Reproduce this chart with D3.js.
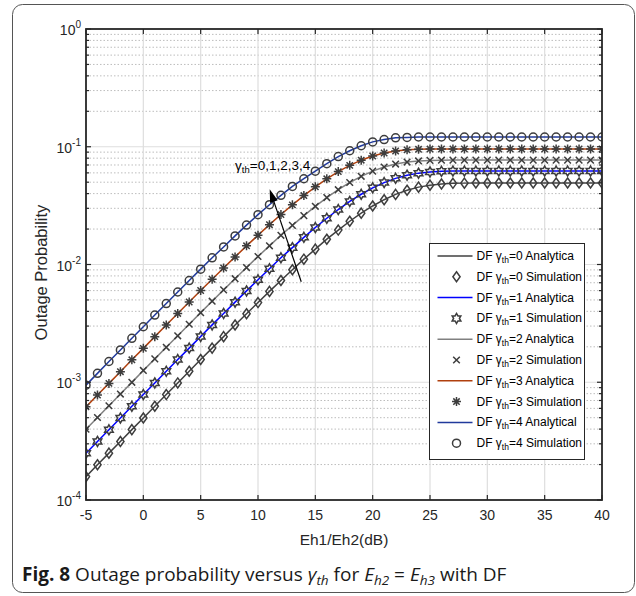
<!DOCTYPE html>
<html>
<head>
<meta charset="utf-8">
<script src="https://cdn.jsdelivr.net/npm/d3@7"></script>
<style>
  body { margin: 0; background: #fff; }
</style>
</head>
<body>
<div id="chart"></div>
<script>
// Eh1/Eh2 in dB, one simulation point per dB
const snrDb = [-5,-4,-3,-2,-1,0,1,2,3,4,5,6,7,8,9,10,11,12,13,14,15,16,17,18,19,20,
  21,22,23,24,25,26,27,28,29,30,31,32,33,34,35,36,37,38,39,40];

// outage probability, gamma_th = 0..4
const pOut0 = [1.58e-4,1.99e-4,2.50e-4,3.14e-4,3.96e-4,4.97e-4,6.25e-4,7.86e-4,9.87e-4,1.24e-3,
  1.56e-3,1.95e-3,2.44e-3,3.06e-3,3.82e-3,4.75e-3,5.91e-3,7.32e-3,9.03e-3,0.0111,
  0.0135,0.0164,0.0196,0.0233,0.0273,0.0314,0.0355,0.0394,0.0427,0.0454,
  0.0472,0.0483,0.0489,0.0491,0.0492,0.0492,0.0492,0.0492,0.0492,0.0492,
  0.0492,0.0492,0.0492,0.0492,0.0492,0.0492];
const pOut1 = [2.49e-4,3.14e-4,3.95e-4,4.97e-4,6.25e-4,7.86e-4,9.87e-4,1.24e-3,1.56e-3,1.95e-3,
  2.45e-3,3.07e-3,3.84e-3,4.79e-3,5.97e-3,7.42e-3,9.20e-3,0.0114,0.0139,0.0170,
  0.0206,0.0247,0.0293,0.0343,0.0395,0.0448,0.0496,0.0539,0.0573,0.0597,
  0.0611,0.0618,0.0621,0.0622,0.0622,0.0622,0.0622,0.0622,0.0622,0.0622,
  0.0622,0.0622,0.0622,0.0622,0.0622,0.0622];
const pOut2 = [3.99e-4,5.02e-4,6.32e-4,7.94e-4,9.98e-4,1.26e-3,1.58e-3,1.98e-3,2.48e-3,3.11e-3,
  3.90e-3,4.88e-3,6.09e-3,7.58e-3,9.42e-3,0.0117,0.0144,0.0177,0.0215,0.0260,
  0.0312,0.0370,0.0432,0.0497,0.0561,0.0621,0.0673,0.0713,0.0741,0.0758,
  0.0766,0.0769,0.0770,0.0770,0.0770,0.0770,0.0770,0.0770,0.0770,0.0770,
  0.0770,0.0770,0.0770,0.0770,0.0770,0.0770];
const pOut3 = [6.18e-4,7.78e-4,9.78e-4,1.23e-3,1.55e-3,1.94e-3,2.44e-3,3.06e-3,3.84e-3,4.80e-3,
  6.01e-3,7.50e-3,9.34e-3,0.0116,0.0144,0.0177,0.0218,0.0266,0.0321,0.0385,
  0.0457,0.0534,0.0615,0.0695,0.0769,0.0834,0.0885,0.0920,0.0941,0.0951,
  0.0956,0.0957,0.0957,0.0957,0.0957,0.0957,0.0957,0.0957,0.0957,0.0957,
  0.0957,0.0957,0.0957,0.0957,0.0957,0.0957];
const pOut4 = [9.45e-4,1.19e-3,1.50e-3,1.88e-3,2.36e-3,2.96e-3,3.72e-3,4.66e-3,5.84e-3,7.31e-3,
  9.13e-3,0.0114,0.0141,0.0175,0.0216,0.0265,0.0322,0.0387,0.0460,0.0535,
  0.0620,0.0718,0.0825,0.0925,0.102,0.110,0.115,0.119,0.120,0.121,
  0.121,0.121,0.121,0.121,0.121,0.121,0.121,0.121,0.121,0.121,
  0.121,0.121,0.121,0.121,0.121,0.121];

const gammaTh = ["0","1","2","3","4"];
const analyticLabel = ["Analytica","Analytica","Analytica","Analytica","Analytical"];
const xTicks = [-5,0,5,10,15,20,25,30,35,40];
const yExponents = [-4,-3,-2,-1,0];

// arrow annotation in data units: tail -> tip
const arrowFrom = [13.77, 0.00714];
const arrowTo = [11.02, 0.0435];
const noteAt = [8.0, 0.0635];

const series = [pOut0, pOut1, pOut2, pOut3, pOut4];
const lineColors = ["#404040", "#0000ff", "#808080", "#b0400e", "#213a9c"];
const markerColor = "#3d3d3d";
const sans = "'Liberation Sans', Arial, Helvetica, sans-serif";

const width = 636, height = 596;
const plot = { left: 86, right: 602, top: 29, bottom: 500 };

const svg = d3.select("#chart").append("svg")
  .attr("width", width)
  .attr("height", height)
  .attr("font-family", sans);

// figure frame
svg.append("rect")
  .attr("x", 12.5).attr("y", 4.5)
  .attr("width", 622).attr("height", 588)
  .attr("rx", 10)
  .attr("fill", "none")
  .attr("stroke", "#555")
  .attr("stroke-width", 1);

const x = d3.scaleLinear().domain([-5, 40]).range([plot.left, plot.right]);
const y = d3.scaleLog().domain([1e-4, 1]).range([plot.bottom, plot.top]);

// minor values per decade
const minorVals = [];
yExponents.slice(0, -1).forEach(e => {
  for (let k = 2; k <= 9; k++) minorVals.push(k * Math.pow(10, e));
});

const grid = svg.append("g");
grid.selectAll(".minor").data(minorVals).enter().append("line")
  .attr("x1", plot.left).attr("x2", plot.right)
  .attr("y1", d => y(d)).attr("y2", d => y(d))
  .attr("stroke", "#bdbdbd")
  .attr("stroke-width", 1)
  .attr("stroke-dasharray", "1.5,2");
grid.selectAll(".vmaj").data(xTicks.slice(1, -1)).enter().append("line")
  .attr("x1", d => x(d)).attr("x2", d => x(d))
  .attr("y1", plot.top).attr("y2", plot.bottom)
  .attr("stroke", "#dedede").attr("stroke-width", 1.2);
grid.selectAll(".hmaj").data(yExponents.slice(1, -1)).enter().append("line")
  .attr("x1", plot.left).attr("x2", plot.right)
  .attr("y1", d => y(Math.pow(10, d))).attr("y2", d => y(Math.pow(10, d)))
  .attr("stroke", "#dedede").attr("stroke-width", 1.2);

// marker shapes
function hexagram(r) {
  const pts = [];
  for (let i = 0; i < 12; i++) {
    const a = -Math.PI / 2 + i * Math.PI / 6;
    const rr = i % 2 === 0 ? r : r / Math.sqrt(3);
    pts.push([rr * Math.cos(a), rr * Math.sin(a)]);
  }
  return "M" + pts.map(p => p[0].toFixed(2) + "," + p[1].toFixed(2)).join("L") + "Z";
}
const markerPaths = [
  "M0,-5L3.6,0L0,5L-3.6,0Z",
  hexagram(5),
  "M-3.3,-3.3L3.3,3.3M3.3,-3.3L-3.3,3.3",
  "M0,-4.5V4.5M-4.5,0H4.5M-3.2,-3.2L3.2,3.2M3.2,-3.2L-3.2,3.2",
  d3.symbol(d3.symbolCircle, Math.PI * 16)()
];

svg.append("clipPath").attr("id", "plotclip")
  .append("rect")
  .attr("x", plot.left).attr("y", plot.top)
  .attr("width", plot.right - plot.left).attr("height", plot.bottom - plot.top);

const curves = svg.append("g").attr("clip-path", "url(#plotclip)");
const line = d3.line().x((d, i) => x(snrDb[i])).y(d => y(d));

series.forEach((vals, s) => {
  curves.append("path")
    .attr("d", line(vals))
    .attr("fill", "none")
    .attr("stroke", lineColors[s])
    .attr("stroke-width", 1.5);
  curves.selectAll(".m" + s).data(vals).enter().append("path")
    .attr("transform", (d, i) => `translate(${x(snrDb[i])},${y(d)})`)
    .attr("d", markerPaths[s])
    .attr("fill", "none")
    .attr("stroke", markerColor)
    .attr("stroke-width", 1.5);
});

// axes box and inward ticks
const axes = svg.append("g").attr("stroke", "#262626");
xTicks.forEach(t => {
  axes.append("line").attr("x1", x(t)).attr("x2", x(t))
    .attr("y1", plot.bottom).attr("y2", plot.bottom - 5).attr("stroke-width", 1.2);
  axes.append("line").attr("x1", x(t)).attr("x2", x(t))
    .attr("y1", plot.top).attr("y2", plot.top + 5).attr("stroke-width", 1.2);
});
yExponents.forEach(e => {
  const yy = y(Math.pow(10, e));
  axes.append("line").attr("x1", plot.left).attr("x2", plot.left + 5)
    .attr("y1", yy).attr("y2", yy).attr("stroke-width", 1.2);
  axes.append("line").attr("x1", plot.right).attr("x2", plot.right - 5)
    .attr("y1", yy).attr("y2", yy).attr("stroke-width", 1.2);
});
minorVals.forEach(v => {
  axes.append("line").attr("x1", plot.left).attr("x2", plot.left + 3)
    .attr("y1", y(v)).attr("y2", y(v)).attr("stroke-width", 1.2);
  axes.append("line").attr("x1", plot.right).attr("x2", plot.right - 3)
    .attr("y1", y(v)).attr("y2", y(v)).attr("stroke-width", 1.2);
});
axes.append("rect")
  .attr("x", plot.left).attr("y", plot.top)
  .attr("width", plot.right - plot.left).attr("height", plot.bottom - plot.top)
  .attr("fill", "none").attr("stroke-width", 1.8);

// tick labels
svg.selectAll(".xt").data(xTicks).enter().append("text")
  .attr("x", d => x(d)).attr("y", plot.bottom + 20)
  .attr("text-anchor", "middle")
  .attr("font-size", 14).attr("fill", "#262626")
  .text(d => d);

const yt = svg.selectAll(".yt").data(yExponents).enter().append("text")
  .attr("x", plot.left - 5).attr("y", d => y(Math.pow(10, d)) + 6)
  .attr("text-anchor", "end")
  .attr("font-size", 14).attr("fill", "#262626");
yt.append("tspan").text("10");
yt.append("tspan").attr("dy", -7).attr("font-size", 10).text(d => d);

svg.append("text")
  .attr("x", (plot.left + plot.right) / 2).attr("y", plot.bottom + 45)
  .attr("text-anchor", "middle").attr("font-size", 15.5).attr("fill", "#262626")
  .text("Eh1/Eh2(dB)");

svg.append("text")
  .attr("transform", `translate(47,${(plot.top + plot.bottom) / 2 + 8}) rotate(-90)`)
  .attr("text-anchor", "middle").attr("font-size", 16.5).attr("fill", "#262626")
  .text("Outage Probability");

// arrow annotation
const tip = [x(arrowTo[0]), y(arrowTo[1])];
const tail = [x(arrowFrom[0]), y(arrowFrom[1])];
const ang = Math.atan2(tip[1] - tail[1], tip[0] - tail[0]);
const headLen = 13, headW = 4;
const base = [tip[0] - headLen * Math.cos(ang), tip[1] - headLen * Math.sin(ang)];
svg.append("line")
  .attr("x1", tail[0]).attr("y1", tail[1]).attr("x2", base[0]).attr("y2", base[1])
  .attr("stroke", "#000").attr("stroke-width", 1.2);
svg.append("path")
  .attr("d", `M${tip[0]},${tip[1]}L${base[0] + headW * Math.sin(ang)},${base[1] - headW * Math.cos(ang)}L${base[0] - headW * Math.sin(ang)},${base[1] + headW * Math.cos(ang)}Z`)
  .attr("fill", "#000");

const note = svg.append("text")
  .attr("x", x(noteAt[0])).attr("y", y(noteAt[1]))
  .attr("font-size", 13.5).attr("fill", "#000");
note.append("tspan").text("\u03b3");
note.append("tspan").attr("font-size", 9.5).attr("dy", 3).text("th");
note.append("tspan").attr("dy", -3).text("=0,1,2,3,4");

// legend
const lg = { x: 429.5, y: 243.5, w: 155, h: 216 };
svg.append("clipPath").attr("id", "legclip").append("rect")
  .attr("x", lg.x).attr("y", lg.y).attr("width", lg.w).attr("height", lg.h);
const legend = svg.append("g");
legend.append("rect")
  .attr("x", lg.x).attr("y", lg.y).attr("width", lg.w).attr("height", lg.h)
  .attr("fill", "#fff").attr("stroke", "#262626").attr("stroke-width", 1);
const legendText = legend.append("g").attr("clip-path", "url(#legclip)");

gammaTh.forEach((g, s) => {
  [0, 1].forEach(k => {
    const row = s * 2 + k;
    const cy = lg.y + 12.5 + row * 20.8;
    if (k === 0) {
      legend.append("line")
        .attr("x1", lg.x + 8).attr("x2", lg.x + 43)
        .attr("y1", cy).attr("y2", cy)
        .attr("stroke", lineColors[s]).attr("stroke-width", 1.5);
    } else {
      legend.append("path")
        .attr("transform", `translate(${lg.x + 27},${cy})`)
        .attr("d", markerPaths[s])
        .attr("fill", "none").attr("stroke", markerColor).attr("stroke-width", 1.5);
    }
    const t = legendText.append("text")
      .attr("x", lg.x + 47).attr("y", cy + 4)
      .attr("font-size", 12).attr("fill", "#000");
    t.append("tspan").text("DF \u03b3");
    t.append("tspan").attr("font-size", 8.5).attr("dy", 3).text("th");
    t.append("tspan").attr("dy", -3).text("=" + g + " " + (k === 0 ? analyticLabel[s] : "Simulation"));
  });
});

// caption
const cap = svg.append("text")
  .attr("x", 22).attr("y", 581)
  .attr("font-size", 19).attr("fill", "#1a1a1a")
  .attr("font-family", "'Open Sans', sans-serif");
cap.append("tspan").attr("font-weight", "bold").text("Fig. 8");
cap.append("tspan").text(" Outage probability versus ");
cap.append("tspan").attr("font-style", "italic").text("\u03b3");
cap.append("tspan").attr("font-style", "italic").attr("font-size", 13.5).attr("dy", 4).text("th");
cap.append("tspan").attr("dy", -4).text(" for ");
cap.append("tspan").attr("font-style", "italic").text("E");
cap.append("tspan").attr("font-style", "italic").attr("font-size", 13.5).attr("dy", 4).text("h2");
cap.append("tspan").attr("dy", -4).text(" = ");
cap.append("tspan").attr("font-style", "italic").text("E");
cap.append("tspan").attr("font-style", "italic").attr("font-size", 13.5).attr("dy", 4).text("h3");
cap.append("tspan").attr("dy", -4).text(" with DF");
</script>
</body>
</html>
